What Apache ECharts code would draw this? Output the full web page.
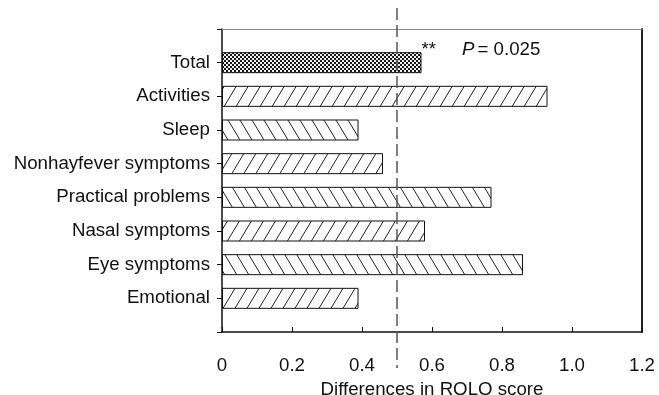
<!DOCTYPE html>
<html>
<head>
<meta charset="utf-8">
<script src="https://cdn.jsdelivr.net/npm/echarts@6/dist/echarts.min.js"></script>
<style>
  html, body { margin: 0; padding: 0; background: #fff; }
  #chart { width: 659px; height: 395px; }
</style>
</head>
<body>
<div id="chart"></div>
<script>
// RQLQ domains, top to bottom
const categories = ['Total', 'Activities', 'Sleep', 'Nonhayfever symptoms',
  'Practical problems', 'Nasal symptoms', 'Eye symptoms', 'Emotional'];
// Difference in RQLQ score per domain
const values = [0.57, 0.93, 0.39, 0.46, 0.77, 0.58, 0.86, 0.39];
// Fill style per bar: dotted for the total, alternating hatch directions
const fills = ['dots', 'fwd', 'back', 'fwd', 'back', 'fwd', 'back', 'fwd'];
// X axis tick labels
const xTickLabels = ['0', '0.2', '0.4', '0.6', '0.8', '1.0', '1.2'];
// Minimal important difference reference line
const threshold = [0.5];
// Significance annotation on the total bar
const stars = '**';
const pName = 'P';
const pText = '= 0.025';

const FONT = 'Liberation Sans, Arial, Helvetica, sans-serif';
const FS = 18.7;
const INK = '#111';

function hatchCanvas(dir) {
  const w = 12, h = 20;
  const c = document.createElement('canvas');
  c.width = w; c.height = h;
  const ctx = c.getContext('2d');
  ctx.fillStyle = '#fff';
  ctx.fillRect(0, 0, w, h);
  ctx.strokeStyle = '#222';
  ctx.lineWidth = 1;
  ctx.beginPath();
  for (let k = -1; k <= 1; k++) {
    const x0 = k * w;
    if (dir === 'fwd') { ctx.moveTo(x0, h); ctx.lineTo(x0 + w, 0); }
    else { ctx.moveTo(x0, 0); ctx.lineTo(x0 + w, h); }
  }
  ctx.stroke();
  return c;
}

function dotCanvas() {
  const c = document.createElement('canvas');
  c.width = 4; c.height = 4;
  const ctx = c.getContext('2d');
  ctx.fillStyle = '#eee';
  ctx.fillRect(0, 0, 4, 4);
  ctx.fillStyle = '#1a1a1a';
  ctx.fillRect(0, 0, 2, 2);
  ctx.fillRect(2, 2, 2, 2);
  return c;
}

const patterns = {
  dots: { image: dotCanvas(), repeat: 'repeat' },
  fwd: { image: hatchCanvas('fwd'), repeat: 'repeat' },
  back: { image: hatchCanvas('back'), repeat: 'repeat' }
};

// Pad the category list so each bar sits one full slot from the frame
const yCats = [''].concat(categories, ['']);
const barData = ['-'].concat(values.map((v, i) => {
  const item = {
    value: v,
    itemStyle: { color: patterns[fills[i]], borderColor: INK, borderWidth: 1 }
  };
  if (i === 0) {
    item.label = {
      show: true,
      position: 'right',
      distance: 0,
      offset: [0, -13],
      formatter: '{s|' + stars + '}{g|}{i|' + pName + '}{h|}{t|' + pText + '}',
      rich: {
        s: { fontSize: FS, fontFamily: FONT, color: INK },
        g: { width: 26 },
        i: { fontSize: FS, fontFamily: FONT, color: INK, fontStyle: 'italic' },
        h: { width: 3 },
        t: { fontSize: FS, fontFamily: FONT, color: INK }
      }
    };
  }
  return item;
}), ['-']);

const chart = echarts.init(document.getElementById('chart'), null, { renderer: 'canvas' });
chart.setOption({
  animation: false,
  backgroundColor: '#fff',
  textStyle: { fontFamily: FONT },
  grid: { left: 222, right: 17, top: 29, bottom: 63, containLabel: false, outerBoundsMode: 'none' },
  xAxis: [
    {
      type: 'value', position: 'bottom', min: 0, max: 1.2, interval: 0.2,
      axisLine: { show: true, onZero: false, lineStyle: { color: INK, width: 1.5 } },
      axisTick: { show: true, inside: true, length: 5, lineStyle: { color: INK } },
      splitLine: { show: false },
      axisLabel: {
        margin: 24, fontSize: FS, color: INK, fontFamily: FONT,
        formatter: v => xTickLabels[Math.round(v / 0.2)]
      },
      name: 'Differences in RQLQ score',
      nameLocation: 'middle', nameGap: 45,
      nameTextStyle: { fontSize: FS, color: INK, fontFamily: FONT }
    },
    {
      type: 'value', position: 'top', min: 0, max: 1.2, interval: 0.2,
      axisLine: { show: true, onZero: false, lineStyle: { color: '#888', width: 1 } },
      axisTick: { show: false }, axisLabel: { show: false }, splitLine: { show: false }
    }
  ],
  yAxis: [
    {
      type: 'category', data: yCats, inverse: true, boundaryGap: false,
      axisLine: { show: true, onZero: false, lineStyle: { color: INK, width: 1.5 } },
      axisTick: { show: true, length: 5, interval: 0, lineStyle: { color: INK } },
      axisLabel: { interval: 0, margin: 12, fontSize: FS, color: INK, fontFamily: FONT },
      splitLine: { show: false }
    },
    {
      type: 'category', data: yCats, inverse: true, boundaryGap: false, position: 'right',
      axisLine: { show: true, onZero: false, lineStyle: { color: '#222', width: 2 } },
      axisTick: { show: false }, axisLabel: { show: false }, splitLine: { show: false }
    }
  ],
  series: [
    {
      type: 'bar', xAxisIndex: 0, yAxisIndex: 0,
      data: barData, barWidth: 21, z: 2
    },
    {
      type: 'custom', xAxisIndex: 0, yAxisIndex: 0, silent: true, z: 10, clip: false,
      data: threshold.map(t => [t, 0]),
      encode: { x: 0, y: 1 },
      renderItem: function (params, api) {
        const x = api.coord([api.value(0), 0])[0];
        const top = params.coordSys.y;
        const bottom = top + params.coordSys.height;
        return {
          type: 'line',
          shape: { x1: x, y1: top - 21, x2: x, y2: bottom + 36 },
          style: { stroke: '#555', lineWidth: 1.5, lineDash: [12, 5] }
        };
      }
    }
  ]
});
</script>
</body>
</html>
